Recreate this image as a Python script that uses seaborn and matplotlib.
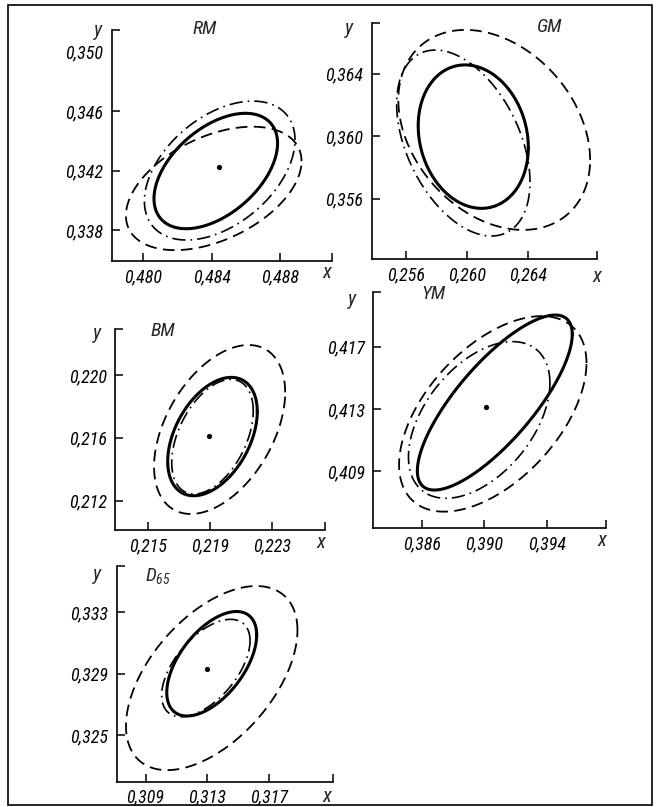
import numpy as np
import pandas as pd
import matplotlib
matplotlib.use("Agg")
import matplotlib.pyplot as plt
import seaborn as sns
from matplotlib.patches import Rectangle

# ---------------- data ----------------
panels = ["RM", "GM", "BM", "YM", "D65"]
titles = ["RM", "GM", "BM", "YM", "$D_{65}$"]

# ellipses: centre x, centre y, half-width (x), half-height (y), correlation
solid_cx = [0.48424, 0.26041, 0.21917, 0.39068, 0.31328]
solid_cy = [0.34198, 0.35998, 0.21608, 0.41341, 0.32964]
solid_sx = [0.00361, 0.00360, 0.00289, 0.00496, 0.00291]
solid_sy = [0.00388, 0.00459, 0.00377, 0.00563, 0.00339]
solid_r = [0.48, -0.15, 0.42, 0.78, 0.55]

dashdot_cx = [0.48447, 0.25976, 0.21917, 0.38968, 0.31290]
dashdot_cy = [0.34201, 0.35957, 0.21607, 0.41229, 0.32936]
dashdot_sx = [0.00440, 0.00436, 0.00263, 0.00453, 0.00286]
dashdot_sy = [0.00467, 0.00595, 0.00365, 0.00504, 0.00316]
dashdot_r = [0.44, -0.42, 0.45, 0.47, 0.56]

dashed_cx = [0.48412, 0.26178, 0.21963, 0.39055, 0.31328]
dashed_cy = [0.34081, 0.36041, 0.21653, 0.41268, 0.32871]
dashed_sx = [0.00513, 0.00627, 0.00423, 0.00600, 0.00555]
dashed_sy = [0.00415, 0.00640, 0.00538, 0.00629, 0.00597]
dashed_r = [0.44, -0.30, 0.44, 0.52, 0.52]

# centre points (None = no point)
dot_x = [0.48443, None, 0.21895, 0.39010, 0.31295]
dot_y = [0.34227, None, 0.21611, 0.41314, 0.32928]

# axis ticks
xticks = [[0.480, 0.484, 0.488], [0.256, 0.260, 0.264], [0.215, 0.219, 0.223],
          [0.386, 0.390, 0.394], [0.309, 0.313, 0.317]]
yticks = [[0.338, 0.342, 0.346, 0.350], [0.356, 0.360, 0.364], [0.212, 0.216, 0.220],
          [0.409, 0.413, 0.417], [0.325, 0.329, 0.333]]
xlims = [(0.47816, 0.49103), (0.25377, 0.26852), (0.21288, 0.22643),
         (0.38288, 0.39780), (0.30713, 0.32111)]
ylims = [(0.33593, 0.35146), (0.35213, 0.36727), (0.21013, 0.22291),
         (0.40532, 0.42054), (0.32199, 0.33598)]

# ---------------- layout (pixels in a 660x807 canvas) ----------------
W, H = 660, 807
boxes = [(111.7, 332.0, 30.0, 261.0),
         (371.7, 597.3, 22.7, 259.3),
         (115.0, 325.0, 329.3, 530.0),
         (373.0, 606.0, 291.7, 528.3),
         (116.7, 332.7, 566.0, 781.7)]
ylab_pos = [(98, 31), (349, 29), (97, 334), (352, 299), (97, 575)]
title_pos = [(205, 29), (550, 27), (163, 331), (433, 294), (158, 576)]
xlab_pos = [(327, 272), (597, 276), (321, 542), (602, 540), (327, 797)]

sns.set_theme(style="ticks")
FONTS = ["Roboto Condensed", "Liberation Sans Narrow", "Roboto", "DejaVu Sans"]
plt.rcParams["font.family"] = FONTS
plt.rcParams["font.style"] = "italic"
plt.rcParams["font.weight"] = "normal"
plt.rcParams["mathtext.fontset"] = "custom"
plt.rcParams["mathtext.rm"] = "Roboto Condensed:italic"
plt.rcParams["mathtext.it"] = "Roboto Condensed:italic"
plt.rcParams["mathtext.default"] = "it"

fig = plt.figure(figsize=(W / 100, H / 100), dpi=100)
fig.patch.set_facecolor("white")

def fx(x):
    return x / W

def fy(y):
    return 1 - y / H

t = np.linspace(0, 2 * np.pi, 401)

def ellipse_df(cx, cy, sx, sy, r):
    phi = np.arccos(r)
    return pd.DataFrame({"x": cx + sx * np.cos(t), "y": cy + sy * np.cos(t - phi)})

def fmt(v):
    return f"{v:.3f}".replace(".", ",")

FS = 13
for i in range(5):
    l, r, tp, b = boxes[i]
    ax = fig.add_axes([fx(l), fy(b), (r - l) / W, (b - tp) / H])
    ax.set_facecolor("none")

    sns.lineplot(data=ellipse_df(dashed_cx[i], dashed_cy[i], dashed_sx[i], dashed_sy[i], dashed_r[i]),
                 x="x", y="y", sort=False, estimator=None, color="black",
                 linewidth=1.3, linestyle=(0, (6.5, 3.5)), ax=ax)
    sns.lineplot(data=ellipse_df(dashdot_cx[i], dashdot_cy[i], dashdot_sx[i], dashdot_sy[i], dashdot_r[i]),
                 x="x", y="y", sort=False, estimator=None, color="black",
                 linewidth=1.2, linestyle=(0, (8, 3, 1, 3)), ax=ax)
    sns.lineplot(data=ellipse_df(solid_cx[i], solid_cy[i], solid_sx[i], solid_sy[i], solid_r[i]),
                 x="x", y="y", sort=False, estimator=None, color="black",
                 linewidth=2.2, linestyle="-", ax=ax)
    if dot_x[i] is not None:
        sns.scatterplot(x=[dot_x[i]], y=[dot_y[i]], color="black", s=14,
                        edgecolor="black", linewidth=0, ax=ax)

    ax.set_xlim(*xlims[i])
    ax.set_ylim(*ylims[i])
    xt = list(xticks[i]) + [xlims[i][1]]
    yt = list(yticks[i]) + [ylims[i][1]]
    ax.set_xticks(xt)
    ax.set_yticks(yt)
    ax.set_xticklabels([fmt(v) for v in xticks[i]] + [""], fontsize=FS, fontstyle="italic")
    ax.set_yticklabels([fmt(v) for v in yticks[i]] + [""], fontsize=FS, fontstyle="italic")
    ax.tick_params(direction="in", length=5.5, width=1.1, color="black",
                   labelcolor="black")
    ax.tick_params(axis="y", pad=6)
    ax.tick_params(axis="x", pad=5)
    # label without tick mark for 0,350 in RM
    if i == 0:
        ax.yaxis.get_major_ticks()[3].tick1line.set_visible(False)
    sns.despine(ax=ax)
    for s in ("left", "bottom"):
        ax.spines[s].set_linewidth(1.2)
        ax.spines[s].set_color("black")
    ax.set_xlabel("")
    ax.set_ylabel("")
    ax.grid(False)

    fig.text(fx(ylab_pos[i][0]), fy(ylab_pos[i][1]), "y", fontsize=FS + 1.5,
             ha="center", va="center", fontstyle="italic")
    fig.text(fx(title_pos[i][0]), fy(title_pos[i][1]), titles[i], fontsize=FS + 1,
             ha="center", va="center", fontstyle="italic")
    fig.text(fx(xlab_pos[i][0]), fy(xlab_pos[i][1]), "x", fontsize=FS + 2,
             ha="center", va="center", fontstyle="italic")

# outer frame
fig.add_artist(Rectangle((fx(8), fy(805)), (652 - 8) / W, (805 - 5) / H,
                         transform=fig.transFigure, fill=False,
                         edgecolor="black", linewidth=1.2))

fig.savefig("out.png", dpi=100, facecolor="white")
